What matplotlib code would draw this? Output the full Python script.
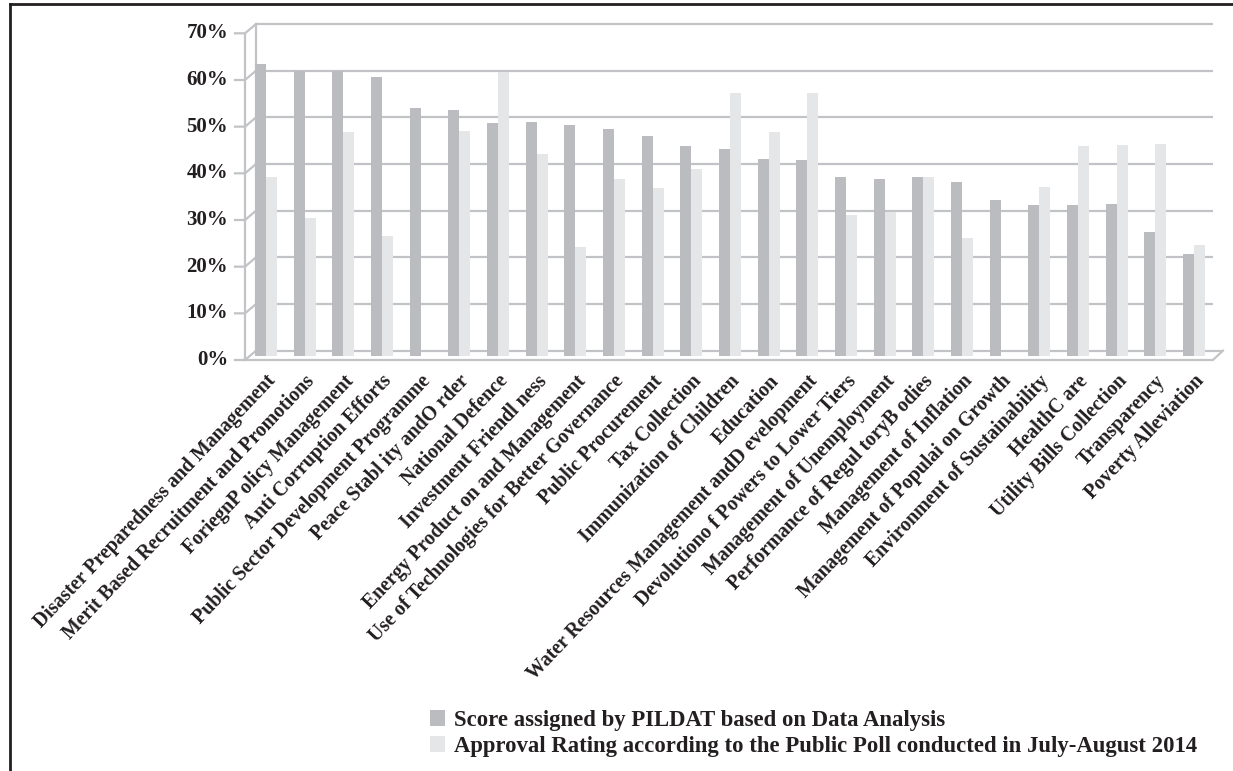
import matplotlib
matplotlib.use("Agg")
import matplotlib.pyplot as plt
from matplotlib.lines import Line2D
import numpy as np

# 各项指标名称（保留原文排版）
categories = [
    "Disaster Preparedness and Management",
    "Merit Based Recruitment and Promotions",
    "ForiegnP olicy Management",
    "Anti Corruption Efforts",
    "Public Sector Development Programme",
    "Peace Stabl ity andO rder",
    "National Defence",
    "Investment Friendl ness",
    "Energy Product on and Management",
    "Use of Technologies for Better Governance",
    "Public Procurement",
    "Tax Collection",
    "Immunization of Children",
    "Education",
    "Water Resources Management andD evelopment",
    "Devolutiono f Powers to Lower Tiers",
    "Management of Unemployment",
    "Performance of Regul toryB odies",
    "Management of Inflation",
    "Management of Populai on Growth",
    "Environment of Sustainability",
    "HealthC are",
    "Utility Bills Collection",
    "Transparency",
    "Poverty Alleviation",
]

# PILDAT 评分（%）
pildat_score = [62.5, 61.1, 61.1, 59.7, 53.1, 52.6, 49.9, 50.1, 49.5, 48.6,
                47.1, 44.9, 44.3, 42.1, 41.9, 38.3, 37.9, 38.3, 37.2, 33.4,
                32.3, 32.3, 32.5, 26.5, 21.8]
# 民调支持率（%），0 表示无数据
poll_rating = [38.3, 29.5, 47.9, 25.6, 0, 48.1, 60.8, 43.2, 23.3, 37.9,
               35.9, 40.0, 56.3, 47.9, 56.3, 30.1, 30.8, 38.3, 25.3, 0,
               36.1, 44.9, 45.1, 45.4, 23.7]

series_labels = [
    "Score assigned by PILDAT based on Data Analysis",
    "Approval Rating according to the Public Poll conducted in July-August 2014",
]
y_ticks = [0, 10, 20, 30, 40, 50, 60, 70]

dark = "#BBBCC0"
light = "#E5E6E8"
grid_c = "#C2C3C6"
text_c = "#231F20"
font = "Liberation Serif"

W, H = 1233, 771
fig = plt.figure(figsize=(W / 100, H / 100), dpi=100)

# 坐标区：像素 245..1213（横向），20..362（纵向）
px_per_cat = 38.67
px_per_unit = 466.7  # 每 1.0（100%）对应的像素
zero_px = 355.7
x_left, x_right = 245, 1213
y_top, y_bot = 20, 362
ax = fig.add_axes([x_left / W, 1 - y_bot / H, (x_right - x_left) / W, (y_bot - y_top) / H])
ax.set_xlim((x_left - 266) / px_per_cat, 24 + (x_right - 1194) / px_per_cat)
ax.set_ylim(-(y_bot - zero_px) / px_per_unit, (zero_px - y_top) / px_per_unit)
ax.axis("off")


def xd(px):
    return (px - 266) / px_per_cat


# 立体效果的墙面偏移
back_dy = (zero_px - 350.7) / px_per_unit
front_dy = -(360 - zero_px) / px_per_unit
lw = 1.6

# 背景墙网格线
for t in y_ticks:
    v = t / 100
    x_end = xd(1223) if t == 0 else xd(1213)
    ax.plot([xd(256), x_end], [v + back_dy] * 2, color=grid_c, lw=lw, zorder=1,
            clip_on=False, solid_capstyle="butt")
ax.plot([xd(256)] * 2, [back_dy, 0.7 + back_dy], color=grid_c, lw=lw, zorder=1, clip_on=False)

# 左侧面与前轴
ax.plot([xd(245)] * 2, [front_dy, 0.7 + front_dy], color=grid_c, lw=lw, zorder=1, clip_on=False)
for t in y_ticks:
    v = t / 100
    ax.plot([xd(235), xd(245), xd(256)], [v + front_dy, v + front_dy, v + back_dy],
            color=grid_c, lw=lw, zorder=1, clip_on=False)
    ax.text(xd(228), v + front_dy, f"{t}%", ha="right", va="center",
            fontsize=15, fontweight="bold", family=font, color=text_c)

# 地板
ax.plot([xd(245), xd(1213), xd(1223)], [front_dy, front_dy, back_dy],
        color=grid_c, lw=lw, zorder=4, clip_on=False)

# 柱子
x = np.arange(len(categories))
w = 11 / px_per_cat
b1 = ax.bar(x - w, np.array(pildat_score) / 100, width=w, align="edge",
            color=dark, zorder=3, label=series_labels[0])
b2 = ax.bar(x, np.array(poll_rating) / 100, width=w, align="edge",
            color=light, zorder=3, label=series_labels[1])

# 类别标签（斜排）
for i, name in enumerate(categories):
    ax.text(i + 7 / px_per_cat, -(378 - zero_px) / px_per_unit, name, rotation=46.5,
            rotation_mode="anchor", ha="right", va="center", fontsize=14.3,
            fontweight="bold", family=font, color=text_c, clip_on=False)

# 图例
leg = fig.legend(handles=[b1, b2], labels=series_labels, loc="upper left",
                 bbox_to_anchor=(430 / W, 1 - 710 / H), frameon=False,
                 handlelength=0.65, handleheight=0.65, handletextpad=0.42,
                 labelspacing=0.22, borderpad=0, borderaxespad=0,
                 prop={"family": font, "weight": "bold", "size": 16.4})
for t in leg.get_texts():
    t.set_color(text_c)

# 外框（上、左）
fig.add_artist(Line2D([10 / W, 1], [1 - 4 / H] * 2, color=text_c, lw=2))
fig.add_artist(Line2D([10 / W] * 2, [0, 1 - 4 / H], color=text_c, lw=2))

plt.savefig("out.png", dpi=100)
plt.close()
